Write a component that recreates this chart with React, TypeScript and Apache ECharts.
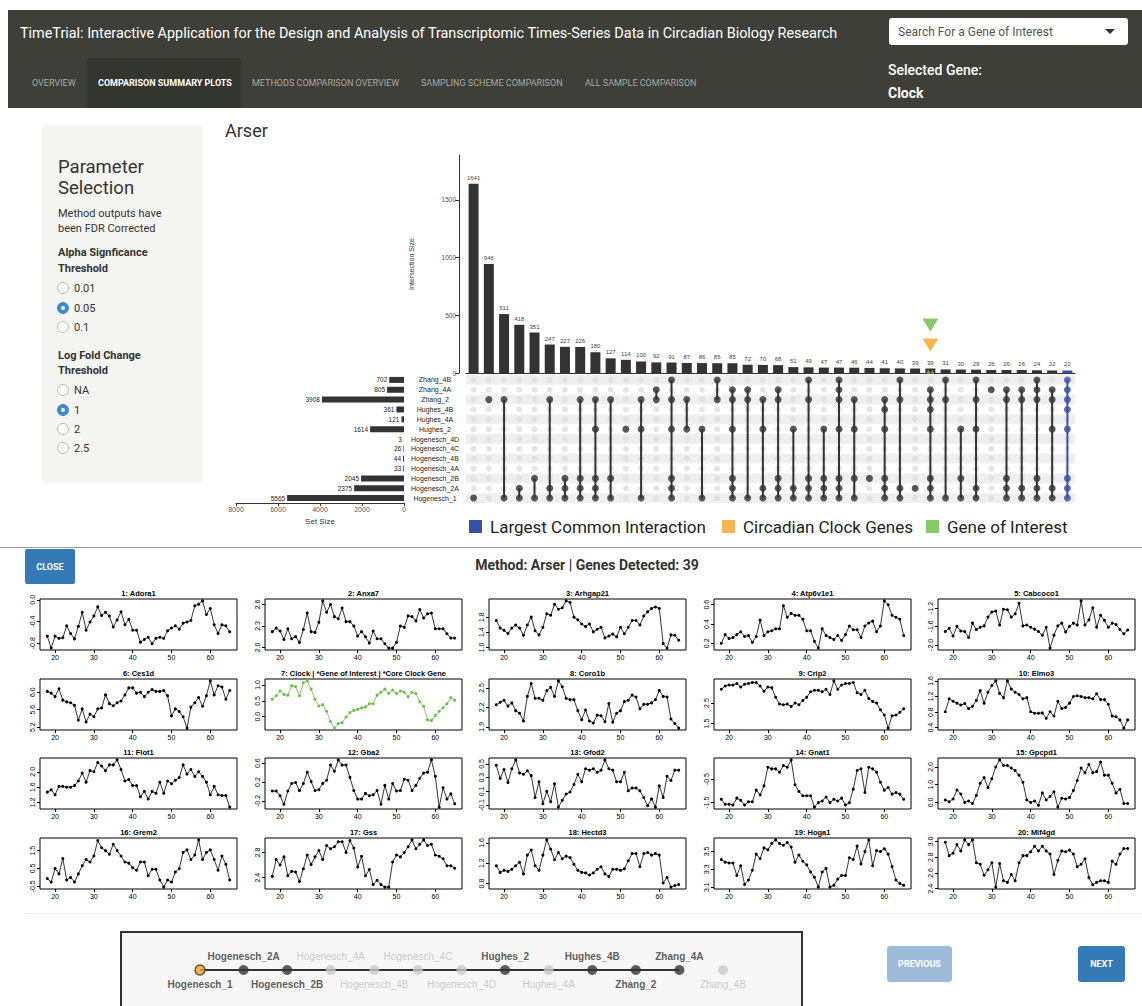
import React, { useEffect, useRef } from 'react';
import * as echarts from 'echarts';

// ---------------- DATA ----------------
const appTitle = 'TimeTrial: Interactive Application for the Design and Analysis of Transcriptomic Times-Series Data in Circadian Biology Research';
const navTabs = ['OVERVIEW', 'COMPARISON SUMMARY PLOTS', 'METHODS COMPARISON OVERVIEW', 'SAMPLING SCHEME COMPARISON', 'ALL SAMPLE COMPARISON'];
const activeTab = 1;
const methodName = 'Arser';
const selectedGene = 'Clock';
const genesDetected = 39;

const alphaOptions = ['0.01', '0.05', '0.1'];
const alphaSelected = 1;
const foldOptions = ['NA', '1', '2', '2.5'];
const foldSelected = 1;

const intersectionSizes = [1641, 946, 511, 418, 351, 247, 227, 226, 180, 127, 114, 100, 92, 91, 87, 86, 85, 85, 72, 70, 68, 51, 49, 47, 47, 46, 44, 41, 40, 39, 39, 31, 30, 29, 26, 26, 26, 24, 22, 22];
const intersectionTicks = [0, 500, 1000, 1500];
const largestCommonIndex = 39;
const geneOfInterestIndex = 30;
const geneMarkerLevel = 416;
const clockMarkerLevel = 243;

const setCodes = ['H1', 'H2A', 'H2B', 'H4A', 'H4B', 'H4C', 'H4D', 'Hu2', 'Hu4A', 'Hu4B', 'Z2', 'Z4A', 'Z4B'];
const setNames = ['Hogenesch_1', 'Hogenesch_2A', 'Hogenesch_2B', 'Hogenesch_4A', 'Hogenesch_4B', 'Hogenesch_4C', 'Hogenesch_4D', 'Hughes_2', 'Hughes_4A', 'Hughes_4B', 'Zhang_2', 'Zhang_4A', 'Zhang_4B'];
const setSizes = [5565, 2375, 2045, 33, 44, 26, 3, 1614, 121, 361, 3908, 805, 702];

const intersectionMembers = [
  ['H1'], ['Z2'], ['Z2', 'H1'], ['H2A', 'H1'], ['H2B', 'H1'],
  ['Z2', 'H2A', 'H1'], ['H2B', 'H2A', 'H1'], ['Z2', 'H2B', 'H2A', 'H1'], ['Z2', 'Hu2', 'H2B', 'H2A', 'H1'], ['Z2', 'H2B', 'H1'],
  ['Hu2'], ['Z2', 'Hu2', 'H1'], ['Z4A', 'Z2'], ['Z4B', 'Z2', 'Hu2', 'H2B', 'H2A', 'H1'], ['Z2', 'Hu2'],
  ['Hu2', 'H1'], ['Z4B', 'Z2'], ['Z4A', 'Z2', 'Hu2', 'H2B', 'H2A', 'H1'], ['Z4A', 'Z2', 'H1'], ['Z2', 'Hu2', 'H2A', 'H1'],
  ['Z4A', 'Z2', 'H2B', 'H2A', 'H1'], ['Hu2', 'H2A', 'H1'], ['Z4B', 'Z2', 'H2B', 'H2A', 'H1'], ['Hu2', 'H2B', 'H2A', 'H1'], ['Z4B', 'Z4A', 'Z2', 'Hu2', 'H2B', 'H2A', 'H1'],
  ['Z2', 'Hu2', 'H2B', 'H1'], ['H2B'], ['Z2', 'Hu4B', 'Hu2', 'H2B', 'H2A', 'H1'], ['Z4B', 'Z2', 'H2A', 'H1'], ['H2A'],
  ['Z4A', 'Z2', 'Hu4B', 'Hu2', 'H2B', 'H2A', 'H1'], ['Z4B', 'Z2', 'H1'], ['Hu2', 'H2B', 'H1'], ['Z4B', 'Z2', 'Hu2', 'H2A', 'H1'], ['Z4A'],
  ['Z4A', 'Z2', 'H2B', 'H2A', 'H1'], ['Z4A', 'Z2', 'H2A', 'H1'], ['Z4B', 'Z4A', 'Z2', 'H2B', 'H2A', 'H1'], ['Z4A', 'Z2', 'Hu2', 'H2A', 'H1'], ['Z4B', 'Z4A', 'Z2', 'Hu4B', 'Hu2', 'H2B', 'H2A', 'H1'],
];

const timePoints = [18, 19, 20, 21, 22, 23, 24, 25, 26, 27, 28, 29, 30, 31, 32, 33, 34, 35, 36, 37, 38, 39, 40, 41, 42, 43, 44, 45, 46, 47, 48, 49, 50, 51, 52, 53, 54, 55, 56, 57, 58, 59, 60, 61, 62, 63, 64, 65];
const timeTicks = [20, 30, 40, 50, 60];

const geneTitles = ['1: Adora1', '2: Anxa7', '3: Arhgap21', '4: Atp6v1e1', '5: Cabcoco1', '6: Ces1d', '7: Clock | *Gene of Interest | *Core Clock Gene', '8: Coro1b', '9: Crip2', '10: Elmo3', '11: Flot1', '12: Gba2', '13: Gfod2', '14: Gnat1', '15: Gpcpd1', '16: Grem2', '17: Gss', '18: Hectd3', '19: Hoga1', '20: Mif4gd'];
const highlightedGene = 6;

const adora1 = [-0.67, -0.89, -0.67, -0.71, -0.70, -0.48, -0.62, -0.72, -0.49, -0.23, -0.56, -0.41, -0.30, -0.13, -0.29, -0.23, -0.30, -0.50, -0.37, -0.22, -0.46, -0.36, -0.56, -0.56, -0.78, -0.73, -0.69, -0.81, -0.71, -0.69, -0.71, -0.57, -0.52, -0.48, -0.54, -0.43, -0.41, -0.38, -0.11, -0.08, -0.02, -0.27, -0.16, -0.46, -0.62, -0.46, -0.48, -0.59];
const anxa7 = [2.22, 2.27, 2.23, 2.11, 2.26, 2.12, 2.15, 2.07, 2.25, 2.48, 2.22, 2.21, 2.35, 2.65, 2.49, 2.60, 2.43, 2.40, 2.55, 2.36, 2.36, 2.30, 2.16, 2.22, 2.15, 2.06, 2.23, 2.12, 2.12, 2.05, 1.99, 1.99, 2.07, 2.30, 2.28, 2.44, 2.43, 2.37, 2.53, 2.41, 2.47, 2.48, 2.26, 2.26, 2.26, 2.19, 2.13, 2.13];
const arhgap21 = [1.71, 1.51, 1.45, 1.37, 1.51, 1.59, 1.51, 1.32, 1.59, 1.80, 1.44, 1.33, 1.53, 1.89, 1.85, 2.14, 2.01, 2.05, 2.23, 2.19, 1.80, 1.73, 1.62, 1.55, 1.62, 1.41, 1.48, 1.53, 1.25, 1.30, 1.35, 1.28, 1.53, 1.36, 1.53, 1.71, 1.71, 1.59, 1.83, 1.94, 2.03, 2.07, 2.03, 1.10, 0.98, 1.33, 1.32, 1.19];
const atp6v1e1 = [0.20, 0.29, 0.25, 0.26, 0.29, 0.32, 0.27, 0.28, 0.21, 0.27, 0.44, 0.28, 0.32, 0.33, 0.35, 0.35, 0.59, 0.47, 0.51, 0.49, 0.49, 0.45, 0.33, 0.33, 0.22, 0.15, 0.35, 0.28, 0.26, 0.24, 0.28, 0.23, 0.29, 0.38, 0.34, 0.34, 0.26, 0.38, 0.41, 0.43, 0.32, 0.38, 0.64, 0.60, 0.49, 0.47, 0.45, 0.28];
const cabcoco1 = [-1.71, -1.64, -1.81, -1.60, -1.70, -1.71, -1.84, -1.53, -1.67, -1.62, -1.59, -1.40, -1.29, -1.27, -1.57, -1.23, -1.24, -1.40, -1.33, -1.10, -1.59, -1.57, -1.62, -1.66, -1.71, -1.79, -1.62, -2.07, -1.79, -1.59, -1.53, -1.72, -1.60, -1.53, -1.57, -1.05, -1.57, -1.46, -1.20, -1.62, -1.36, -1.47, -1.62, -1.53, -1.56, -1.67, -1.76, -1.68];
const ces1d = [6.02, 5.98, 5.90, 6.08, 5.82, 5.78, 5.76, 5.70, 5.36, 5.62, 5.32, 5.50, 5.44, 5.62, 5.64, 5.94, 5.74, 5.69, 5.76, 5.80, 5.94, 6.10, 6.10, 5.98, 6.00, 5.90, 6.00, 6.06, 6.02, 6.02, 6.04, 5.92, 5.46, 5.62, 5.56, 5.44, 5.18, 5.66, 5.76, 5.88, 5.68, 5.92, 6.26, 5.94, 6.15, 6.12, 5.84, 6.04];
const clock = [0.55, 0.66, 0.81, 0.70, 0.68, 0.98, 0.95, 0.66, 1.07, 1.13, 0.87, 0.55, 0.34, 0.38, 0.17, -0.15, -0.36, -0.22, -0.19, -0.01, 0.13, 0.20, 0.23, 0.28, 0.31, 0.41, 0.41, 0.68, 0.77, 0.87, 0.73, 0.84, 0.73, 0.81, 0.77, 0.63, 0.77, 0.73, 0.47, 0.33, -0.10, -0.12, 0.04, 0.17, 0.28, 0.41, 0.60, 0.52];
const coro1b = [2.24, 2.28, 2.31, 2.22, 2.27, 2.15, 2.11, 1.99, 2.37, 2.57, 2.34, 2.34, 2.31, 2.46, 2.51, 2.37, 2.61, 2.52, 2.34, 2.32, 2.32, 2.15, 2.01, 2.16, 1.99, 1.96, 2.08, 2.07, 1.98, 2.26, 1.97, 2.11, 2.15, 2.29, 2.31, 2.39, 2.36, 2.18, 2.25, 2.25, 2.27, 2.32, 2.46, 2.37, 2.36, 2.02, 1.95, 1.88];
const crip2 = [3.17, 3.33, 3.38, 3.38, 3.45, 3.28, 3.42, 3.45, 3.50, 3.50, 3.33, 3.08, 3.28, 3.25, 2.78, 2.45, 2.42, 2.45, 2.33, 2.50, 2.42, 2.62, 2.78, 3.05, 3.12, 3.12, 3.05, 3.17, 2.92, 3.58, 3.17, 3.38, 3.45, 3.45, 3.50, 3.00, 2.92, 3.12, 2.72, 2.58, 2.50, 2.17, 1.92, 1.28, 1.88, 1.92, 2.05, 2.22];
const elmo3 = [0.81, 1.14, 1.08, 1.03, 0.98, 1.02, 0.89, 0.95, 1.10, 1.35, 1.03, 1.31, 1.48, 1.60, 1.28, 1.17, 1.60, 1.39, 1.31, 1.25, 1.14, 1.17, 0.81, 0.77, 0.77, 0.78, 0.64, 0.81, 0.70, 1.08, 0.89, 0.92, 1.03, 1.20, 1.22, 1.20, 1.17, 1.17, 1.14, 1.27, 1.12, 1.12, 1.00, 0.70, 0.68, 0.60, 0.39, 0.60];
const flot1 = [1.47, 1.53, 1.40, 1.62, 1.62, 1.60, 1.60, 1.64, 1.76, 1.97, 1.73, 2.03, 2.00, 2.24, 2.15, 2.03, 2.18, 2.18, 2.31, 2.06, 1.76, 1.80, 1.64, 1.64, 1.35, 1.49, 1.29, 1.49, 1.44, 1.73, 1.44, 1.76, 1.69, 1.78, 1.85, 2.18, 1.94, 2.06, 1.88, 2.00, 1.88, 1.73, 1.40, 1.62, 1.40, 1.38, 1.38, 1.08];
const gba2 = [0.01, 0.01, -0.09, -0.27, 0.01, 0.17, 0.19, 0.02, 0.17, 0.41, 0.21, 0.02, 0.04, 0.17, 0.24, 0.56, 0.43, 0.67, 0.56, 0.56, 0.30, 0.02, -0.16, -0.16, -0.04, -0.09, -0.07, 0.02, -0.27, 0.13, -0.16, 0.17, 0.01, 0.02, 0.26, 0.24, 0.02, 0.13, 0.28, 0.39, 0.41, 0.67, 0.32, -0.33, 0.08, -0.16, -0.05, -0.26];
const gfod2 = [0.48, 0.29, 0.42, 0.23, 0.43, 0.56, 0.37, 0.35, 0.40, 0.33, 0.01, 0.24, -0.08, 0.10, -0.05, 0.21, -0.13, -0.03, 0.06, 0.09, 0.20, 0.35, 0.24, 0.43, 0.41, 0.43, 0.38, 0.41, 0.56, 0.43, 0.41, 0.24, 0.24, 0.38, 0.11, 0.15, 0.15, 0.11, 0.01, -0.11, -0.01, -0.13, 0.18, 0.01, 0.32, 0.26, 0.41, 0.41];
const gnat1 = [-1.36, -1.57, -1.57, -1.60, -1.31, -1.40, -1.60, -1.46, -1.46, -0.97, -1.17, -0.79, 0.00, -0.07, -0.07, -0.21, 0.07, 0.00, 0.31, -0.74, -1.03, -1.21, -1.21, -1.21, -1.69, -1.50, -1.43, -1.26, -1.50, -1.36, -1.43, -1.31, -1.60, -1.50, -0.93, -0.14, -0.07, -1.07, 0.00, -0.07, -0.21, -0.64, -0.97, -0.86, -1.14, -1.07, -1.14, -1.36];
const gpcpd1 = [0.14, 0.04, 0.20, 0.70, 0.48, 0.00, 0.08, -0.06, 0.40, 1.08, 1.40, 0.84, 1.34, 2.00, 2.40, 2.08, 2.08, 1.94, 1.80, 1.54, 1.14, 0.14, 0.00, 0.08, -0.16, 0.54, 0.14, 0.34, 0.60, -0.26, 0.24, 0.20, 0.28, 0.68, 1.24, 1.94, 1.68, 2.14, 1.68, 1.74, 2.28, 1.54, 1.54, 1.08, 0.54, 0.74, -0.06, -0.06];
const grem2 = [-0.06, -0.26, 0.50, 0.20, 1.06, -0.14, 0.00, -0.26, 0.20, 0.66, 1.00, 0.86, 1.20, 2.06, 1.66, 1.50, 1.30, 1.86, 1.50, 1.20, 0.86, 0.80, 0.54, 0.40, 0.86, 0.86, 0.10, 0.46, 0.46, -0.14, -0.54, -0.14, -0.26, 0.30, 0.50, 1.40, 1.54, 1.00, 1.26, 2.10, 1.00, 1.40, 1.54, 1.00, 0.40, 1.20, 0.74, -0.14];
const gss = [2.42, 2.69, 2.60, 2.73, 2.43, 2.50, 2.49, 2.34, 2.54, 2.76, 2.61, 2.73, 2.83, 2.69, 2.91, 2.86, 2.89, 2.97, 2.97, 2.80, 2.99, 2.87, 2.57, 2.74, 2.43, 2.53, 2.29, 2.36, 2.29, 2.25, 2.25, 2.65, 2.76, 2.73, 2.80, 2.89, 3.00, 2.86, 2.93, 3.00, 2.91, 2.93, 2.76, 2.74, 2.70, 2.59, 2.59, 2.55];
const hectd3 = [1.15, 1.02, 1.06, 1.04, 1.08, 1.15, 1.22, 0.99, 1.36, 1.46, 1.15, 1.06, 1.36, 1.66, 1.48, 1.27, 1.41, 1.29, 1.34, 1.31, 1.18, 1.06, 1.02, 1.01, 0.97, 1.01, 1.08, 1.13, 0.99, 0.94, 1.08, 1.08, 1.06, 1.09, 1.25, 1.39, 1.39, 1.13, 1.39, 1.41, 1.36, 1.39, 1.36, 0.81, 0.92, 0.73, 0.76, 0.78];
const hoga1 = [3.41, 3.38, 3.37, 3.37, 3.23, 3.34, 3.13, 3.18, 3.29, 3.47, 3.42, 3.54, 3.52, 3.59, 3.63, 3.59, 3.57, 3.60, 3.55, 3.38, 3.46, 3.39, 3.35, 3.27, 3.21, 3.10, 3.27, 3.31, 3.10, 3.12, 3.19, 3.23, 3.23, 3.43, 3.41, 3.56, 3.36, 3.50, 3.63, 3.34, 3.51, 3.50, 3.53, 3.47, 3.33, 3.18, 3.14, 3.12];
const mif4gd = [2.99, 2.82, 2.85, 2.96, 2.88, 3.02, 2.96, 3.02, 2.73, 2.71, 2.57, 2.64, 2.73, 2.42, 2.72, 2.50, 2.48, 2.58, 2.50, 2.73, 2.82, 2.82, 2.87, 2.94, 2.88, 2.94, 2.88, 2.84, 2.58, 2.76, 2.88, 2.87, 2.89, 2.84, 2.68, 2.71, 2.78, 2.54, 2.45, 2.48, 2.50, 2.50, 2.48, 2.75, 2.71, 2.84, 2.91, 2.91];

const geneValues = [adora1, anxa7, arhgap21, atp6v1e1, cabcoco1, ces1d, clock, coro1b, crip2, elmo3, flot1, gba2, gfod2, gnat1, gpcpd1, grem2, gss, hectd3, hoga1, mif4gd];
const geneYTicks = [
  [-0.8, -0.4, 0.0], [2.0, 2.3, 2.6], [1.0, 1.4, 1.8], [0.2, 0.4, 0.6], [-2.0, -1.6, -1.2],
  [5.2, 5.6, 6.0], [0.0, 0.5, 1.0], [1.9, 2.2, 2.5], [1.5, 2.5], [0.4, 0.8, 1.2, 1.6],
  [1.2, 1.6, 2.0], [-0.2, 0.2, 0.6], [-0.1, 0.1, 0.3, 0.5], [-1.5, -0.5], [0.0, 1.0, 2.0],
  [-0.5, 0.5, 1.5], [2.4, 2.8], [0.8, 1.2, 1.6], [3.1, 3.3, 3.5], [2.4, 2.6, 2.8, 3.0],
];

const timelineNames = ['Hogenesch_1', 'Hogenesch_2A', 'Hogenesch_2B', 'Hogenesch_4A', 'Hogenesch_4B', 'Hogenesch_4C', 'Hogenesch_4D', 'Hughes_2', 'Hughes_4A', 'Hughes_4B', 'Zhang_2', 'Zhang_4A', 'Zhang_4B'];
const timelineActive = [true, true, true, false, false, false, false, true, false, true, true, true, false];
const timelineCurrent = 0;
const timelineLastLinked = 11;

// ---------------- STYLE ----------------
const BLUE = '#3552a8';
const ORANGE = '#f6a21e';
const GREEN = '#6abd45';
const DARK = '#333333';
const UI_FONT = 'Roboto, "Open Sans", sans-serif';
const R_FONT = '"Liberation Sans", Arial, sans-serif';

const colLefts = [40, 265, 489, 714, 938];
const rowTops = [599, 679, 758, 838];
const panelW = 197;
const panelH = 51;

const plain = (v: number) => String(v);

function txt(text: string, x: number, y: number, o: any = {}) {
  return {
    type: 'text', x, y, silent: true, z: 10,
    style: {
      text, fill: o.fill || DARK, fontSize: o.size || 12, fontWeight: o.weight || 'normal',
      fontFamily: o.family || UI_FONT, textAlign: o.align || 'left', textVerticalAlign: 'middle',
      lineHeight: o.lineHeight,
    },
  };
}

function radio(x: number, y: number, selected: boolean) {
  const els: any[] = [{
    type: 'circle', shape: { cx: x, cy: y, r: 5.5 }, silent: true,
    style: { fill: selected ? '#3f88d6' : '#fff', stroke: selected ? '#3f88d6' : '#b8b8b8', lineWidth: 1 },
  }];
  if (selected) els.push({ type: 'circle', shape: { cx: x, cy: y, r: 2 }, silent: true, style: { fill: '#fff' } });
  return els;
}

function buildOption() {
  const grid: any[] = [];
  const xAxis: any[] = [];
  const yAxis: any[] = [];
  const series: any[] = [];
  const graphic: any[] = [];
  const intersectionIds = intersectionSizes.map((_, i) => 'I' + (i + 1));

  // ---- upset: intersection size bars ----
  grid.push({ left: 466, top: 155, width: 609, height: 218 });
  xAxis.push({
    gridIndex: 0, type: 'category', data: intersectionIds,
    axisLine: { show: true, lineStyle: { color: DARK, width: 1 } }, axisTick: { show: false }, axisLabel: { show: false },
  });
  yAxis.push({
    gridIndex: 0, type: 'value', min: 0, max: 1890, offset: 7,
    axisLine: { show: true, lineStyle: { color: DARK } },
    axisTick: { show: true, length: 4, customValues: intersectionTicks, lineStyle: { color: DARK } },
    axisLabel: { customValues: intersectionTicks, fontSize: 6.5, color: '#555', margin: 3, fontFamily: R_FONT, formatter: plain },
    splitLine: { show: false },
    name: 'Intersection Size', nameLocation: 'middle', nameGap: 44,
    nameTextStyle: { fontSize: 7, color: DARK, fontFamily: R_FONT },
  });

  // ---- upset: matrix ----
  grid.push({ left: 466, top: 375, width: 609, height: 128 });
  xAxis.push({ gridIndex: 1, type: 'category', data: intersectionIds, show: false });
  yAxis.push({
    gridIndex: 1, type: 'category', data: setNames,
    axisLine: { show: false }, axisTick: { show: false }, axisLabel: { show: false, interval: 0 },
    splitLine: { show: false },
    splitArea: { show: true, interval: 0, areaStyle: { color: ['#efefef', 'rgba(255,255,255,0)'] } },
  });

  // ---- upset: set sizes ----
  grid.push({ left: 236, top: 375, width: 168, height: 128 });
  xAxis.push({
    gridIndex: 2, type: 'value', inverse: true, min: 0, max: 8000, interval: 2000,
    axisLine: { show: true, lineStyle: { color: DARK } },
    axisTick: { show: true, length: 3, lineStyle: { color: DARK } },
    axisLabel: { fontSize: 7, color: '#555', margin: 3, fontFamily: R_FONT, formatter: plain },
    splitLine: { show: false },
    name: 'Set Size', nameLocation: 'middle', nameGap: 14,
    nameTextStyle: { fontSize: 8, color: DARK, fontFamily: R_FONT },
  });
  yAxis.push({
    gridIndex: 2, type: 'category', data: setNames, position: 'right',
    axisLine: { show: false }, axisTick: { show: false },
    axisLabel: { interval: 0, fontSize: 7, color: '#222', align: 'center', margin: 31, fontFamily: R_FONT },
  });

  const barLabel = { show: true, position: 'top', fontSize: 6, color: '#444', distance: 3, fontFamily: R_FONT };
  series.push({
    type: 'bar', name: 'Intersections', xAxisIndex: 0, yAxisIndex: 0, barWidth: 10,
    data: intersectionSizes.map((v, i) => (i === largestCommonIndex ? '-' : v)),
    itemStyle: { color: DARK }, label: barLabel, z: 2,
  });
  series.push({
    type: 'bar', name: 'Largest Common Interaction', xAxisIndex: 0, yAxisIndex: 0, barWidth: 10, barGap: '-100%',
    data: intersectionSizes.map((v, i) => (i === largestCommonIndex ? v : '-')),
    itemStyle: { color: BLUE }, label: barLabel, z: 2,
  });
  series.push({
    type: 'scatter', name: 'Gene of Interest', xAxisIndex: 0, yAxisIndex: 0,
    symbol: 'triangle', symbolRotate: 180, itemStyle: { color: GREEN }, z: 5,
    data: [
      { value: [geneOfInterestIndex, geneMarkerLevel], symbolSize: [16, 13] },
      { value: [geneOfInterestIndex, 10], symbolSize: [4, 4], symbolRotate: 0, symbolOffset: [2, 0] },
    ],
  });
  series.push({
    type: 'scatter', name: 'Circadian Clock Genes', xAxisIndex: 0, yAxisIndex: 0,
    symbol: 'triangle', symbolRotate: 180, itemStyle: { color: ORANGE }, z: 5,
    data: [
      { value: [geneOfInterestIndex, clockMarkerLevel], symbolSize: [16, 13] },
      { value: [geneOfInterestIndex, 10], symbolSize: [4, 4], symbolRotate: 0, symbolOffset: [-2, 0] },
    ],
  });

  const allDots: any[] = [];
  const activeDots: any[] = [];
  const spans: any[] = [];
  intersectionMembers.forEach((members, i) => {
    setNames.forEach((_, j) => allDots.push([i, j]));
    const rows = members.map((c) => setCodes.indexOf(c));
    rows.forEach((r) => activeDots.push({ value: [i, r], itemStyle: { color: i === largestCommonIndex ? BLUE : DARK } }));
    spans.push([i, Math.min(...rows), Math.max(...rows)]);
  });
  series.push({
    type: 'scatter', xAxisIndex: 1, yAxisIndex: 1, data: allDots, symbolSize: 6,
    itemStyle: { color: '#dedede' }, z: 2, silent: true,
  });
  series.push({
    type: 'custom', xAxisIndex: 1, yAxisIndex: 1, data: spans, z: 3, silent: true,
    renderItem: (params: any, api: any) => {
      const p1 = api.coord([api.value(0), api.value(1)]);
      const p2 = api.coord([api.value(0), api.value(2)]);
      return {
        type: 'line', shape: { x1: p1[0], y1: p1[1], x2: p2[0], y2: p2[1] },
        style: { stroke: api.value(0) === largestCommonIndex ? BLUE : DARK, lineWidth: 2 },
      };
    },
  });
  series.push({
    type: 'scatter', xAxisIndex: 1, yAxisIndex: 1, data: activeDots, symbolSize: 7, z: 4, silent: true,
  });

  series.push({
    type: 'bar', name: 'Set Size', xAxisIndex: 2, yAxisIndex: 2, data: setSizes, barWidth: 6,
    itemStyle: { color: DARK },
    label: { show: true, position: 'left', fontSize: 6.5, color: '#222', distance: 2, fontFamily: R_FONT },
  });

  // ---- small multiples ----
  geneValues.forEach((vals, i) => {
    const r = Math.floor(i / 5);
    const c = i % 5;
    const gi = grid.length;
    const lo = Math.min(...vals);
    const hi = Math.max(...vals);
    const pad = (hi - lo) * 0.04;
    const tpad = (timePoints[timePoints.length - 1] - timePoints[0]) * 0.04;
    grid.push({
      left: colLefts[c], top: rowTops[r], width: panelW, height: panelH,
      show: true, borderColor: '#000', borderWidth: 1, backgroundColor: 'transparent',
    });
    xAxis.push({
      gridIndex: gi, type: 'value', position: 'bottom',
      min: timePoints[0] - tpad, max: timePoints[timePoints.length - 1] + tpad,
      axisLine: { show: false, onZero: false },
      axisTick: { show: true, length: 3, customValues: timeTicks, lineStyle: { color: '#000' } },
      axisLabel: { customValues: timeTicks, fontSize: 7, color: '#000', margin: 4, fontFamily: R_FONT },
      splitLine: { show: false },
    });
    yAxis.push({
      gridIndex: gi, type: 'value', position: 'left', min: lo - pad, max: hi + pad,
      axisLine: { show: false, onZero: false },
      axisTick: { show: true, length: 3, customValues: geneYTicks[i], lineStyle: { color: '#000' } },
      axisLabel: {
        customValues: geneYTicks[i], fontSize: 7, color: '#000', margin: 4, rotate: 90, fontFamily: R_FONT,
        formatter: (v: number) => v.toFixed(1),
      },
      splitLine: { show: false },
    });
    const color = i === highlightedGene ? GREEN : '#000';
    series.push({
      type: 'line', name: geneTitles[i], xAxisIndex: gi, yAxisIndex: gi,
      data: timePoints.map((t, k) => [t, vals[k]]),
      symbol: 'circle', symbolSize: 3, showSymbol: true,
      lineStyle: { color, width: 0.8 }, itemStyle: { color }, silent: true,
    });
    graphic.push(txt(geneTitles[i], colLefts[c] + panelW / 2, rowTops[r] - 6, { size: 7.5, weight: 'bold', family: R_FONT, align: 'center', fill: '#000' }));
  });

  // ---- timeline ----
  const tg = grid.length;
  grid.push({ left: 200, top: 950, width: 523, height: 40 });
  xAxis.push({ gridIndex: tg, type: 'category', data: timelineNames, boundaryGap: false, show: false });
  yAxis.push({ gridIndex: tg, type: 'value', min: 0, max: 1, show: false });
  series.push({
    type: 'line', xAxisIndex: tg, yAxisIndex: tg, symbol: 'none', silent: true,
    data: timelineNames.map((_, i) => (i <= timelineLastLinked ? 0.5 : '-')),
    lineStyle: { color: DARK, width: 2 }, z: 2,
  });
  series.push({
    type: 'scatter', xAxisIndex: tg, yAxisIndex: tg, symbolSize: 10, z: 3, silent: true,
    data: timelineNames.map((name, i) => ({
      value: 0.5,
      itemStyle: {
        color: i === timelineCurrent ? ORANGE : timelineActive[i] ? DARK : '#c8c8c8',
        borderColor: i === timelineCurrent ? DARK : 'transparent', borderWidth: i === timelineCurrent ? 1.5 : 0,
      },
      label: {
        show: true, formatter: name, position: i % 2 === 0 ? 'bottom' : 'top', distance: 4,
        fontSize: 10, fontFamily: R_FONT,
        fontWeight: timelineActive[i] ? 'bold' : 'normal',
        color: timelineActive[i] ? DARK : '#bdbdbd',
      },
    })),
  });

  // ---- page chrome ----
  const chrome: any[] = [];
  chrome.push({ type: 'rect', shape: { x: 8, y: 10, width: 1134, height: 98 }, style: { fill: '#3d3f38' }, silent: true });
  chrome.push({ type: 'rect', shape: { x: 87, y: 58, width: 154, height: 50 }, style: { fill: '#33352f' }, silent: true });
  chrome.push(txt(appTitle, 20, 33, { size: 14.4, fill: '#ffffff' }));
  const tabX = [32, 98, 252, 421, 585];
  navTabs.forEach((t, i) => chrome.push(txt(t, tabX[i], 83, { size: 9, fill: i === activeTab ? '#ffffff' : '#a8a9a3', weight: i === activeTab ? 'bold' : 'normal' })));
  chrome.push({ type: 'rect', shape: { x: 889, y: 18, width: 239, height: 27, r: 3 }, style: { fill: '#ffffff' }, silent: true });
  chrome.push(txt('Search For a Gene of Interest', 898, 31.5, { size: 12, fill: '#555' }));
  chrome.push({ type: 'polygon', shape: { points: [[1105, 29], [1115, 29], [1110, 34]] }, style: { fill: '#333' }, silent: true });
  chrome.push(txt('Selected Gene:', 888, 70, { size: 14, fill: '#ffffff', weight: 500 }));
  chrome.push(txt(selectedGene, 888, 93, { size: 14, fill: '#ffffff', weight: 'bold' }));

  chrome.push({ type: 'rect', shape: { x: 42, y: 125, width: 161, height: 358, r: 4 }, style: { fill: '#f5f5f2' }, silent: true });
  chrome.push(txt('Parameter', 58, 166.5, { size: 18.5 }));
  chrome.push(txt('Selection', 58, 187.5, { size: 18.5 }));
  chrome.push(txt('Method outputs have\nbeen FDR Corrected', 58, 220.5, { size: 11, lineHeight: 15 }));
  chrome.push(txt('Alpha Signficance\nThreshold', 58, 260, { size: 11, weight: 'bold', lineHeight: 16 }));
  const alphaY = [288, 308, 327];
  alphaOptions.forEach((o, i) => { chrome.push(...radio(63, alphaY[i], i === alphaSelected)); chrome.push(txt(o, 74, alphaY[i], { size: 11 })); });
  chrome.push(txt('Log Fold Change\nThreshold', 58, 362.5, { size: 11, weight: 'bold', lineHeight: 15 }));
  const foldY = [390, 410, 429, 448];
  foldOptions.forEach((o, i) => { chrome.push(...radio(63, foldY[i], i === foldSelected)); chrome.push(txt(o, 74, foldY[i], { size: 11 })); });

  chrome.push(txt(methodName, 225, 130, { size: 18 }));

  chrome.push({ type: 'line', shape: { x1: 0, y1: 547.5, x2: 1142, y2: 547.5 }, style: { stroke: '#9a9a9a', lineWidth: 1 }, silent: true });
  chrome.push({ type: 'rect', shape: { x: 25, y: 549, width: 50, height: 35, r: 2 }, style: { fill: '#337ab7' }, silent: true });
  chrome.push(txt('CLOSE', 50, 567, { size: 9, weight: 'bold', fill: '#ffffff', align: 'center' }));
  chrome.push(txt(`Method: ${methodName} | Genes Detected: ${genesDetected}`, 587, 565, { size: 14, weight: 'bold', align: 'center', fill: '#333' }));

  chrome.push({ type: 'line', shape: { x1: 25, y1: 913.5, x2: 1142, y2: 913.5 }, style: { stroke: '#ececec', lineWidth: 1 }, silent: true });
  chrome.push({ type: 'rect', shape: { x: 121, y: 932, width: 681, height: 80 }, style: { fill: '#f7f7f7', stroke: '#333', lineWidth: 2 }, silent: true });
  chrome.push({ type: 'rect', shape: { x: 887, y: 946, width: 65, height: 36, r: 3 }, style: { fill: '#9dbbd9' }, silent: true });
  chrome.push(txt('PREVIOUS', 919.5, 964, { size: 9, weight: 'bold', fill: '#ffffff', align: 'center' }));
  chrome.push({ type: 'rect', shape: { x: 1078, y: 946, width: 47, height: 36, r: 3 }, style: { fill: '#337ab7' }, silent: true });
  chrome.push(txt('NEXT', 1101.5, 964, { size: 9, weight: 'bold', fill: '#ffffff', align: 'center' }));

  const legendBase = {
    orient: 'horizontal', top: 518, padding: 0, itemWidth: 13, itemHeight: 13, icon: 'rect', selectedMode: false,
    textStyle: { fontSize: 17, color: '#222', fontFamily: UI_FONT, padding: [0, 0, 0, 3] },
  };

  return {
    animation: false,
    backgroundColor: '#ffffff',
    textStyle: { fontFamily: R_FONT },
    grid, xAxis, yAxis, series,
    legend: [
      { ...legendBase, left: 469, data: ['Largest Common Interaction'] },
      { ...legendBase, left: 722, data: ['Circadian Clock Genes'] },
      { ...legendBase, left: 926, data: ['Gene of Interest'] },
    ],
    graphic: { elements: [...chrome, ...graphic] },
  };
}

export default function App() {
  const ref = useRef<HTMLDivElement>(null);
  useEffect(() => {
    document.body.style.margin = '0';
    const chart = echarts.init(ref.current as HTMLDivElement, null, { renderer: 'svg' });
    chart.setOption(buildOption() as any);
    return () => chart.dispose();
  }, []);
  return <div ref={ref} style={{ position: 'absolute', left: 0, top: 0, width: 1142, height: 1006, background: '#fff' }} />;
}
